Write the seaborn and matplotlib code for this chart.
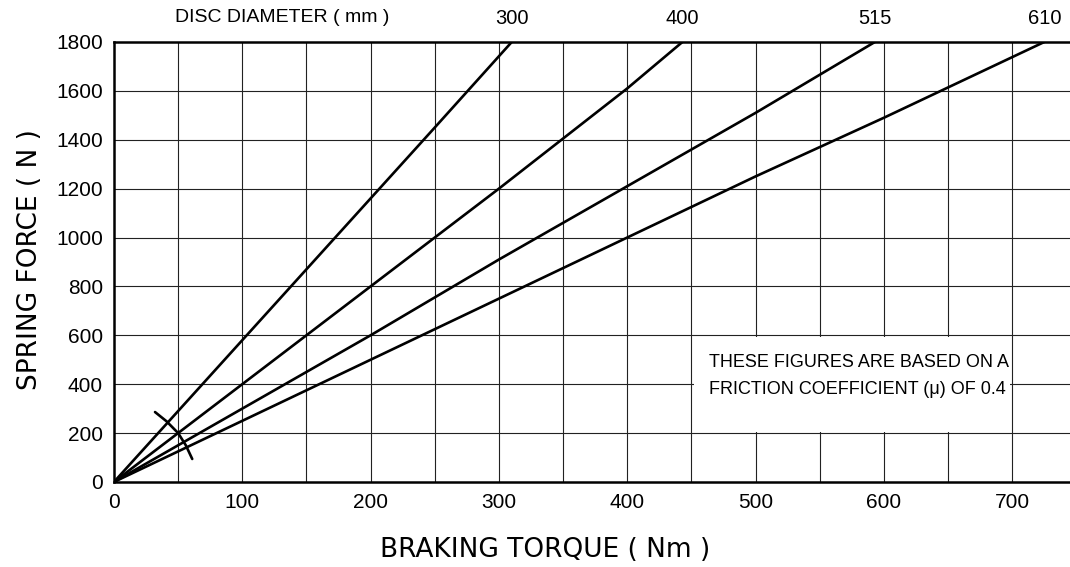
import numpy as np
import pandas as pd
import matplotlib
matplotlib.use("Agg")
import matplotlib.pyplot as plt
from matplotlib.patches import Rectangle
import seaborn as sns

# braking torque (Nm) vs spring force (N) for each disc diameter (mm)
disc_300_torque = [0, 50, 100, 150, 200, 250, 310]
disc_300_force = [0, 290, 580, 870, 1160, 1450, 1800]

disc_400_torque = [0, 100, 200, 300, 400, 443]
disc_400_force = [0, 400, 800, 1200, 1610, 1800]

disc_515_torque = [0, 100, 200, 300, 400, 500, 593]
disc_515_force = [0, 300, 600, 910, 1210, 1510, 1800]

disc_610_torque = [0, 100, 200, 300, 400, 500, 600, 725]
disc_610_force = [0, 250, 500, 750, 1000, 1250, 1490, 1800]

disc_labels = ["300", "400", "515", "610"]

# small arc mark near the origin
arc_torque = [32, 41, 50, 56, 61]
arc_force = [286, 248, 200, 150, 94]

x_ticks = [0, 100, 200, 300, 400, 500, 600, 700]
y_ticks = [0, 200, 400, 600, 800, 1000, 1200, 1400, 1600, 1800]

note = "THESE FIGURES ARE BASED ON A\nFRICTION COEFFICIENT (\u03bc) OF 0.4"

frames = []
for lab, t, f in zip(disc_labels,
                     [disc_300_torque, disc_400_torque, disc_515_torque, disc_610_torque],
                     [disc_300_force, disc_400_force, disc_515_force, disc_610_force]):
    frames.append(pd.DataFrame({"torque": t, "force": f, "disc": lab}))
df = pd.concat(frames, ignore_index=True)

sns.set_style("white")
narrow = ["Liberation Sans", "DejaVu Sans"]
plt.rcParams["font.family"] = ["DejaVu Sans"]
plt.rcParams["text.color"] = "black"
plt.rcParams["axes.labelcolor"] = "black"
plt.rcParams["xtick.color"] = "black"
plt.rcParams["ytick.color"] = "black"

fig = plt.figure(figsize=(10.7, 5.67), dpi=100)
ax = fig.add_axes([0.1065, 0.15, 0.8935, 0.776])

ax.set_xlim(0, 745)
ax.set_ylim(0, 1800)

# grid
for gx in np.arange(50, 745, 50):
    ax.axvline(gx, color="#222222", lw=0.8, zorder=1)
for gy in y_ticks[1:-1]:
    ax.axhline(gy, color="#222222", lw=0.8, zorder=1)

# blank panel behind the note
ax.add_patch(Rectangle((452, 205), 246, 390, facecolor="white",
                       edgecolor="none", zorder=2))

sns.lineplot(data=df, x="torque", y="force", units="disc", estimator=None,
             color="black", lw=1.9, ax=ax, zorder=3, sort=False)
ax.plot(arc_torque, arc_force, color="black", lw=1.9, zorder=3)

for lab in disc_labels:
    sub = df[df.disc == lab]
    ax.annotate(lab, (sub.torque.iloc[-1], 1800), xytext=(0, 17),
                textcoords="offset points", ha="center", va="center",
                fontsize=14.5, family=narrow, annotation_clip=False)

ax.text(0.176, 1.055, "DISC DIAMETER ( mm )", transform=ax.transAxes,
        ha="center", va="center", fontsize=14, family=narrow)

ax.text(464, 432, note, ha="left", va="center", fontsize=13,
        family=narrow, linespacing=1.75, zorder=4)

ax.set_xticks(x_ticks)
ax.set_yticks(y_ticks)
ax.set_xticklabels([str(v) for v in x_ticks], family=narrow, fontsize=15)
ax.set_yticklabels([str(v) for v in y_ticks], family=narrow, fontsize=15)
ax.tick_params(axis="both", length=0, pad=8)

for side in ["left", "bottom", "top"]:
    ax.spines[side].set_color("black")
    ax.spines[side].set_linewidth(1.8)
ax.spines["right"].set_visible(False)

ax.set_xlabel("BRAKING TORQUE ( Nm )", fontsize=19, va="center")
ax.set_ylabel("SPRING FORCE ( N )", fontsize=19, va="center")
ax.xaxis.set_label_coords(0.451, -0.155)
ax.yaxis.set_label_coords(-0.088, 0.505)

fig.savefig("out.png", dpi=100)
